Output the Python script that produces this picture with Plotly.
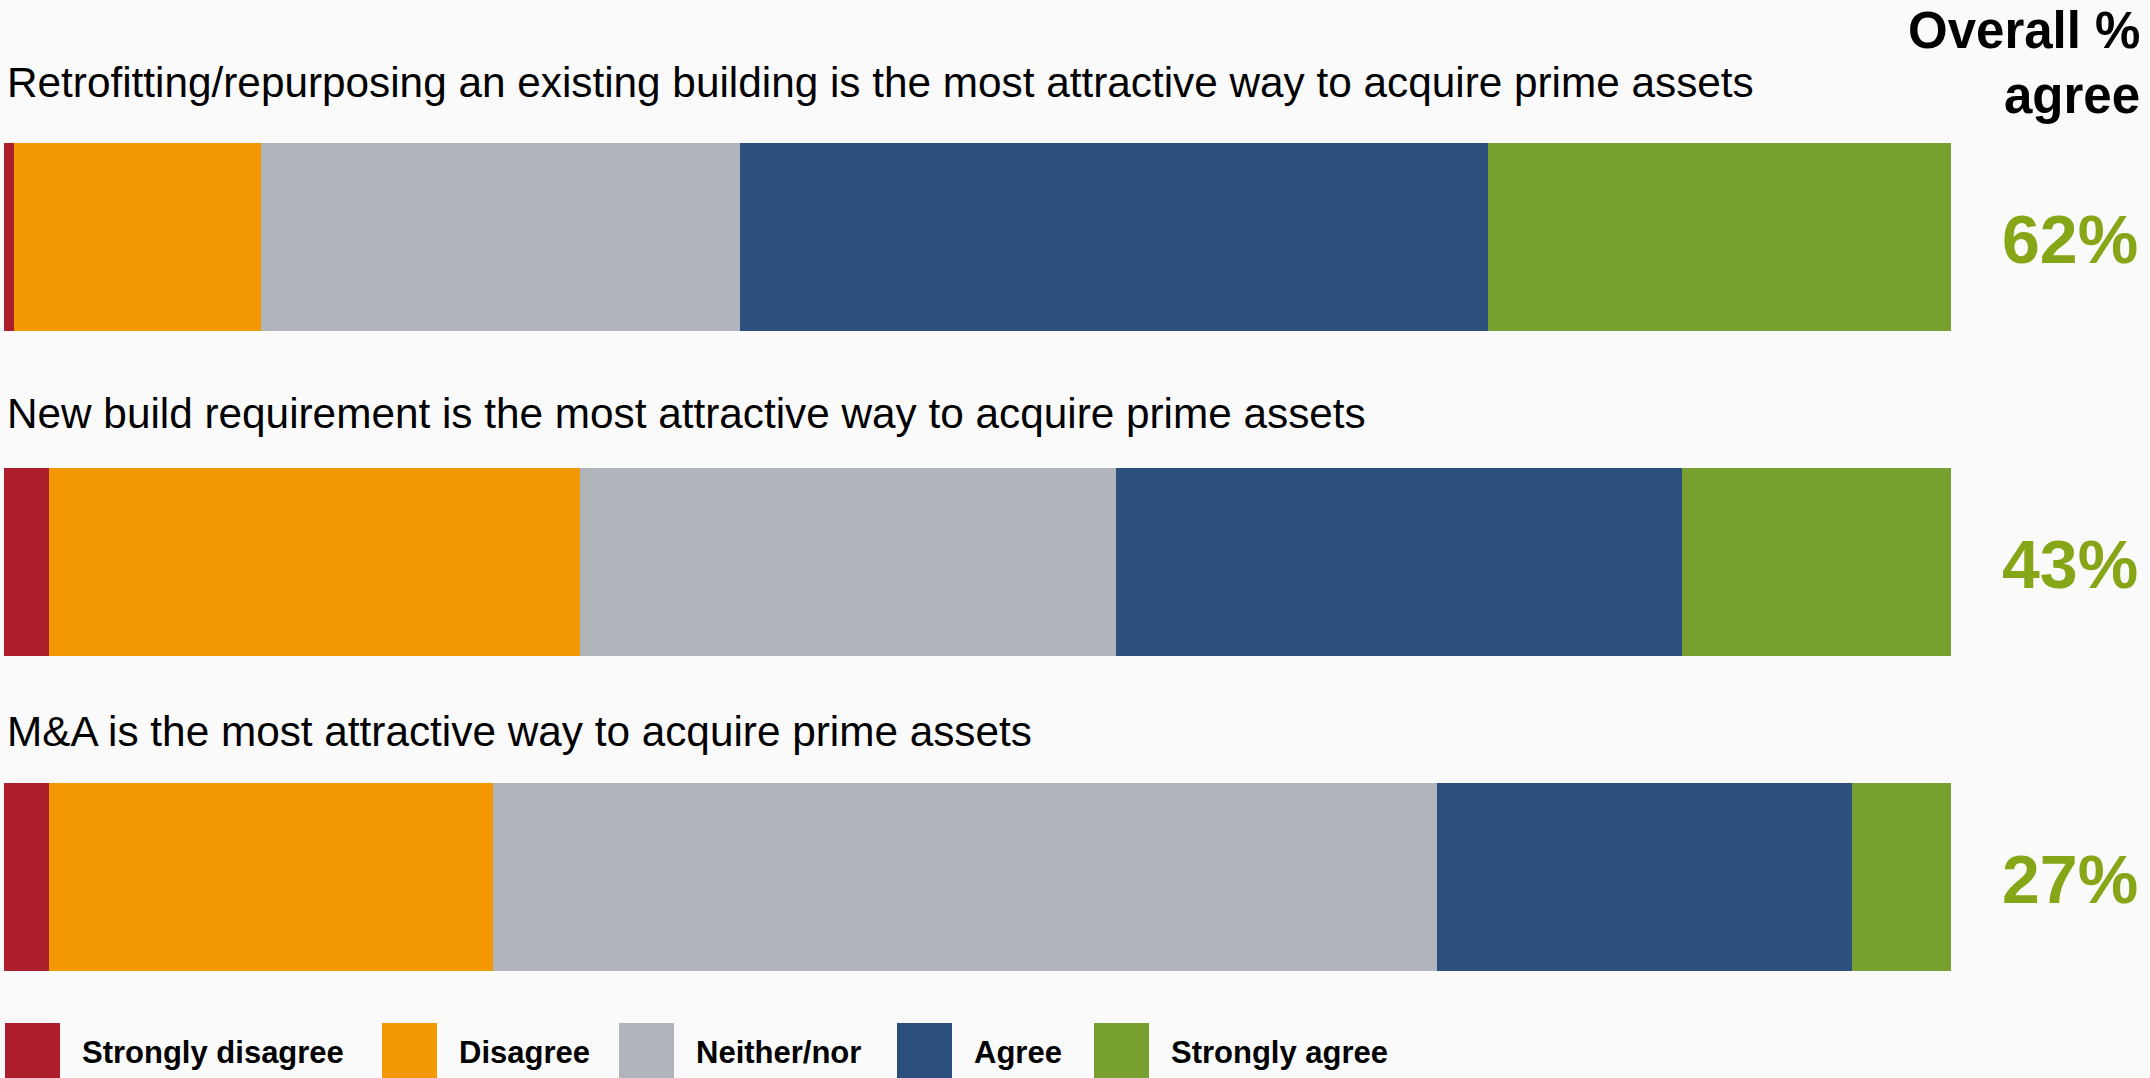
import plotly.graph_objects as go

# ---- data ----
statements = [
    "Retrofitting/repurposing an existing building is the most attractive way to acquire prime assets",
    "New build requirement is the most attractive way to acquire prime assets",
    "M&A is the most attractive way to acquire prime assets",
]
categories = ["Strongly disagree", "Disagree", "Neither/nor", "Agree", "Strongly agree"]
strongly_disagree = [0.5, 2.3, 2.3]
disagree = [12.7, 27.3, 22.8]
neither = [24.6, 27.5, 48.5]
agree = [38.4, 29.1, 21.3]
strongly_agree = [23.8, 13.8, 5.1]
overall_agree = ["62%", "43%", "27%"]

series = [strongly_disagree, disagree, neither, agree, strongly_agree]
colors = ["#AD1E2D", "#F39800", "#AFB5BB", "#2C4F7D", "#77A030"]

W, H = 2150, 1078
FONT = "Liberation Sans, Arial, Helvetica, sans-serif"

# layout geometry (pixels)
bar_left, bar_right = 4, 1951
bar_rows = [(143, 331), (468, 656), (783, 971)]
title_y = [83, 414, 731]

def py(p):
    return 1 - p / H

def px(p):
    return p / W

fig = go.Figure()
yaxes = ["y", "y2", "y3"]
for r, stmt in enumerate(statements):
    for c, cat in enumerate(categories):
        fig.add_trace(go.Bar(
            x=[series[c][r]], y=[stmt], orientation="h",
            name=cat, marker=dict(color=colors[c], line=dict(width=0)),
            xaxis="x", yaxis=yaxes[r], showlegend=False,
            hoverinfo="name+x",
        ))

layout_axes = {}
for r, (top, bot) in enumerate(bar_rows):
    key = "yaxis" if r == 0 else f"yaxis{r+1}"
    layout_axes[key] = dict(domain=[py(bot), py(top)], anchor="x", visible=False,
                            range=[-0.5, 0.5], fixedrange=True)

annotations = []
for r, stmt in enumerate(statements):
    annotations.append(dict(
        text=stmt, x=px(5), y=py(title_y[r]), xref="paper", yref="paper",
        xanchor="left", yanchor="middle", showarrow=False,
        font=dict(family=FONT, size=42.3, color="#000000"),
    ))
    top, bot = bar_rows[r]
    annotations.append(dict(
        text=f"<b>{overall_agree[r]}</b>", x=px(2140), y=py((top + bot) / 2 + 2),
        xref="paper", yref="paper", xanchor="right", yanchor="middle",
        showarrow=False, font=dict(family=FONT, size=68, color="#86A517"),
    ))

annotations.append(dict(
    text="<b>Overall %</b>", x=px(2142), y=py(30), xref="paper", yref="paper",
    xanchor="right", yanchor="middle", showarrow=False,
    font=dict(family=FONT, size=51, color="#000000"),
))
annotations.append(dict(
    text="<b>agree</b>", x=px(2142), y=py(95), xref="paper", yref="paper",
    xanchor="right", yanchor="middle", showarrow=False,
    font=dict(family=FONT, size=51, color="#000000"),
))

# custom legend
legend_sq_x = [5, 382, 619, 897, 1094]
shapes = []
for c, cat in enumerate(categories):
    x0 = legend_sq_x[c]
    shapes.append(dict(type="rect", xref="paper", yref="paper",
                       x0=px(x0), x1=px(x0 + 55), y0=py(1078), y1=py(1023),
                       fillcolor=colors[c], line=dict(width=0)))
    annotations.append(dict(
        text=f"<b>{cat}</b>", x=px(x0 + 75), y=py(1052), xref="paper", yref="paper",
        xanchor="left", yanchor="middle", showarrow=False,
        font=dict(family=FONT, size=31, color="#000000"),
    ))

fig.update_layout(
    width=W, height=H,
    margin=dict(l=0, r=0, t=0, b=0),
    paper_bgcolor="#FAFAFA", plot_bgcolor="#FAFAFA",
    barmode="stack", bargap=0,
    xaxis=dict(domain=[px(bar_left), px(bar_right)], range=[0, 100], visible=False,
               anchor="y", fixedrange=True),
    annotations=annotations, shapes=shapes,
    showlegend=False,
    **layout_axes,
)

fig.write_html(
    "out.html",
    config={"displayModeBar": False},
    post_script="document.body.style.margin='0';document.body.style.background='#FAFAFA';",
)
